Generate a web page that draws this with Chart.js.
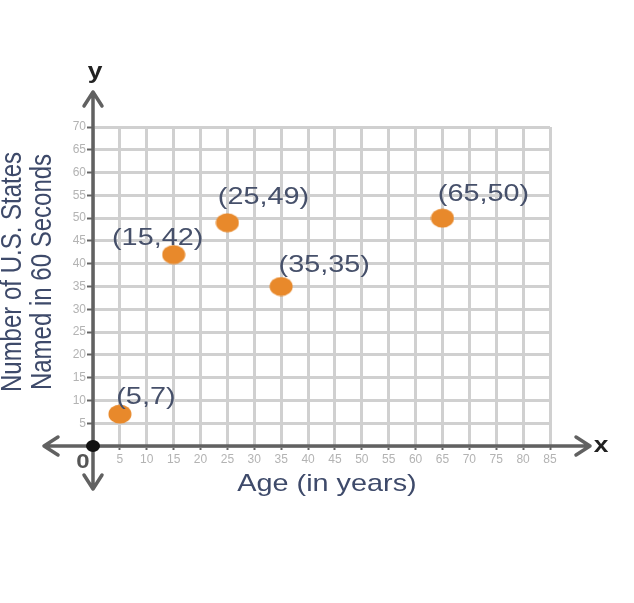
<!DOCTYPE html>
<html>
<head>
<meta charset="utf-8">
<script src="https://cdn.jsdelivr.net/npm/chart.js@4"></script>
<style>
  html, body { margin: 0; padding: 0; background: #fff; }
  #wrap { width: 634px; height: 603px; }
</style>
</head>
<body>
<div id="wrap"><canvas id="scatterChart" width="634" height="603"></canvas></div>
<script>
// ---- data ----
const ages = [5, 15, 25, 35, 65];
const statesNamed = [7, 42, 49, 35, 50];
const pointLabels = ["(5,7)", "(15,42)", "(25,49)", "(35,35)", "(65,50)"];

const xTitle = "Age (in years)";
const yTitle = ["Number of U.S. States", "Named in 60 Seconds"];

const FONT = "'Liberation Sans', Arial, sans-serif";
const HSTRETCH = 1.2; // the picture is a bit wider than tall

// slightly wide orange dot
function makeDot() {
    const c = document.createElement('canvas');
    c.width = 24; c.height = 20;
    const g = c.getContext('2d');
    g.fillStyle = '#e8892b';
    g.beginPath();
    g.ellipse(12, 10, 11.5, 9.5, 0, 0, Math.PI * 2);
    g.fill();
    return c;
}

function stretchedText(ctx, text, x, y) {
    ctx.save();
    ctx.translate(x, y);
    ctx.scale(HSTRETCH, 1);
    ctx.fillText(text, 0, 0);
    ctx.restore();
}

// arrows, origin, titles and point labels
const axesPlugin = {
    id: 'axesPlugin',
    afterDatasetsDraw(chart, args, opts) {
        const ctx = chart.ctx;
        const xs = chart.scales.x, ys = chart.scales.y;
        const ox = xs.getPixelForValue(0), oy = ys.getPixelForValue(0);
        ctx.save();
        ctx.strokeStyle = '#616161';
        ctx.lineWidth = 3.5;
        ctx.lineCap = 'round';
        ctx.lineJoin = 'round';

        const left = 44, right = 590, top = 92, bottom = 489;
        ctx.beginPath();
        ctx.moveTo(left, oy); ctx.lineTo(right, oy);
        ctx.moveTo(ox, top); ctx.lineTo(ox, bottom);
        // arrow heads
        ctx.moveTo(left + 14, oy - 9); ctx.lineTo(left, oy); ctx.lineTo(left + 14, oy + 9);
        ctx.moveTo(right - 14, oy - 9); ctx.lineTo(right, oy); ctx.lineTo(right - 14, oy + 9);
        ctx.moveTo(ox - 9, top + 14); ctx.lineTo(ox, top); ctx.lineTo(ox + 9, top + 14);
        ctx.moveTo(ox - 9, bottom - 14); ctx.lineTo(ox, bottom); ctx.lineTo(ox + 9, bottom - 14);
        ctx.stroke();

        // origin
        ctx.fillStyle = '#111';
        ctx.beginPath(); ctx.ellipse(ox, oy, 7, 6, 0, 0, Math.PI * 2); ctx.fill();

        ctx.textAlign = 'center';
        ctx.textBaseline = 'middle';
        ctx.fillStyle = '#222';
        ctx.font = 'bold 22px ' + FONT;
        stretchedText(ctx, 'y', ox + 2, 72);
        stretchedText(ctx, 'x', 601, oy);
        ctx.fillStyle = '#555';
        ctx.font = 'bold 20px ' + FONT;
        stretchedText(ctx, '0', ox - 10, oy + 16);

        // titles
        ctx.fillStyle = '#3e4a6a';
        ctx.font = '24px ' + FONT;
        stretchedText(ctx, xTitle, 327, 484);
        ctx.save();
        ctx.translate(13, 272);
        ctx.rotate(-Math.PI / 2);
        ctx.scale(1, HSTRETCH);
        ctx.fillText(yTitle[0], 0, 0);
        ctx.fillText(yTitle[1], 0, 25);
        ctx.restore();

        // point labels
        ctx.font = '24px ' + FONT;
        ctx.fillStyle = '#46506a';
        const meta = chart.getDatasetMeta(0);
        meta.data.forEach((pt, i) => {
            const off = opts.offsets[i];
            stretchedText(ctx, pointLabels[i], pt.x + off[0], pt.y + off[1]);
        });
        ctx.restore();
    }
};

new Chart(document.getElementById('scatterChart'), {
    type: 'scatter',
    data: {
        datasets: [{
            data: ages.map((a, i) => ({ x: a, y: statesNamed[i] })),
            pointStyle: makeDot(),
            pointRadius: 10,
            pointHoverRadius: 10
        }]
    },
    options: {
        responsive: false,
        animation: false,
        layout: { padding: { top: 127, right: 84, left: 0, bottom: 0 } },
        plugins: {
            legend: { display: false },
            tooltip: { enabled: false },
            axesPlugin: { offsets: [[26, -17], [-16, -16], [36, -25], [43, -21], [41, -24]] }
        },
        scales: {
            x: {
                type: 'linear', min: 0, max: 85,
                afterFit: s => { s.height = 157; },
                border: { display: false },
                grid: { color: '#d0d0d0', lineWidth: 3, tickColor: '#666', tickLength: 4, tickWidth: 2 },
                ticks: {
                    stepSize: 5, padding: 2, color: '#b3b3b3', maxRotation: 0,
                    font: { family: FONT, size: 12 },
                    callback: v => v === 0 ? '' : v
                }
            },
            y: {
                type: 'linear', min: 0, max: 70,
                afterFit: s => { s.width = 93; },
                border: { display: false },
                grid: { color: '#d0d0d0', lineWidth: 3, tickColor: '#666', tickLength: 6, tickWidth: 2 },
                ticks: {
                    stepSize: 5, padding: 1, color: '#b3b3b3',
                    font: { family: FONT, size: 12 },
                    callback: v => v === 0 ? '' : v
                }
            }
        }
    },
    plugins: [axesPlugin]
});
</script>
</body>
</html>
